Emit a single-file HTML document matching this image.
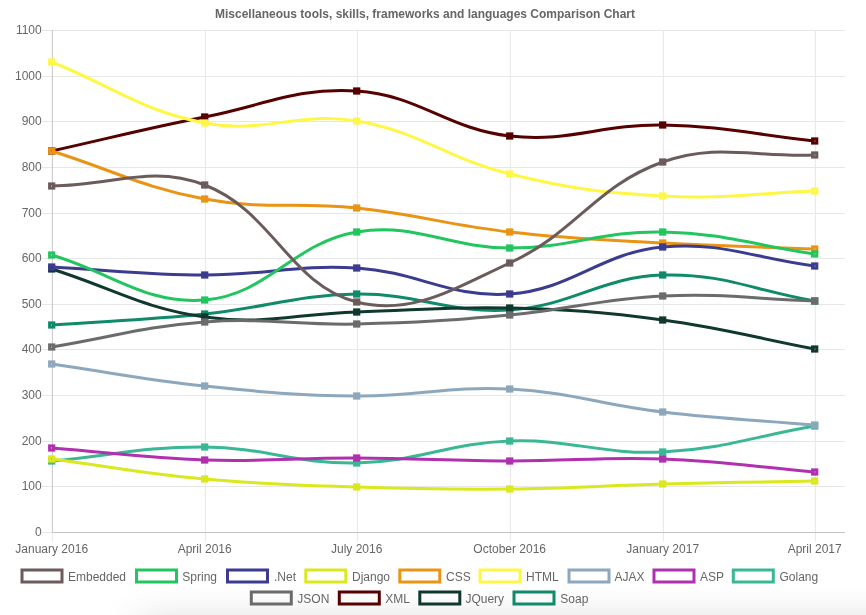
<!DOCTYPE html>
<html><head><meta charset="utf-8"><title>Chart</title>
<style>html,body{margin:0;padding:0;background:#fff;}body{width:866px;height:615px;overflow:hidden;position:relative;}svg{display:block;position:relative;z-index:1;}.sh{position:absolute;left:138px;top:623px;width:900px;height:60px;box-shadow:0 0 40px rgba(0,0,0,0.17);z-index:0;}</style></head>
<body>
<div class="sh"></div>
<svg width="866" height="615" viewBox="0 0 866 615">
<g stroke-width="1"><line x1="42" x2="845" y1="486.50" y2="486.50" stroke="#e7e7e7"/><line x1="42" x2="845" y1="441.50" y2="441.50" stroke="#e7e7e7"/><line x1="42" x2="845" y1="395.50" y2="395.50" stroke="#e7e7e7"/><line x1="42" x2="845" y1="349.50" y2="349.50" stroke="#e7e7e7"/><line x1="42" x2="845" y1="304.50" y2="304.50" stroke="#e7e7e7"/><line x1="42" x2="845" y1="258.50" y2="258.50" stroke="#e7e7e7"/><line x1="42" x2="845" y1="213.50" y2="213.50" stroke="#e7e7e7"/><line x1="42" x2="845" y1="167.50" y2="167.50" stroke="#e7e7e7"/><line x1="42" x2="845" y1="121.50" y2="121.50" stroke="#e7e7e7"/><line x1="42" x2="845" y1="76.50" y2="76.50" stroke="#e7e7e7"/><line x1="42" x2="845" y1="30.50" y2="30.50" stroke="#e7e7e7"/><line x1="205.35" x2="205.35" y1="30.0" y2="541.5" stroke="#e7e7e7"/><line x1="357.35" x2="357.35" y1="30.0" y2="541.5" stroke="#e7e7e7"/><line x1="510.35" x2="510.35" y1="30.0" y2="541.5" stroke="#e7e7e7"/><line x1="663.35" x2="663.35" y1="30.0" y2="541.5" stroke="#e7e7e7"/><line x1="815.35" x2="815.35" y1="30.0" y2="541.5" stroke="#e7e7e7"/><line x1="52.35" x2="52.35" y1="30.0" y2="532.5" stroke="#c6c6c6"/><line x1="52.35" x2="52.35" y1="532.5" y2="541.5" stroke="#e7e7e7"/><line x1="42" x2="52.35" y1="532.50" y2="532.50" stroke="#e7e7e7"/><line x1="52.35" x2="845" y1="532.50" y2="532.50" stroke="#c2c2c2"/></g>
<g stroke="#0f8a6a" stroke-width="3" fill="#0f8a6a" fill-opacity="0.1"><path d="M51.70 325.00 C112.90 320.60 143.68 320.20 204.70 314.00 C265.68 307.80 295.80 294.80 356.70 294.00 C417.80 293.20 449.11 313.76 509.70 310.00 C571.51 306.16 601.16 276.82 662.70 275.00 C723.16 273.22 753.90 290.60 814.70 301.00" fill="none"/>
<rect x="49.58" y="322.88" width="4.24" height="4.24"/>
<rect x="202.58" y="311.88" width="4.24" height="4.24"/>
<rect x="354.58" y="291.88" width="4.24" height="4.24"/>
<rect x="507.58" y="307.88" width="4.24" height="4.24"/>
<rect x="660.58" y="272.88" width="4.24" height="4.24"/>
<rect x="812.58" y="298.88" width="4.24" height="4.24"/>
</g>
<g stroke="#10382e" stroke-width="3" fill="#10382e" fill-opacity="0.1"><path d="M51.70 269.00 C112.90 288.20 142.09 308.17 204.70 317.00 C264.09 325.37 295.89 313.79 356.70 312.00 C417.89 310.19 448.58 306.40 509.70 308.00 C570.98 309.60 601.95 311.83 662.70 320.00 C723.95 328.23 753.90 337.40 814.70 349.00" fill="none"/>
<rect x="49.58" y="266.88" width="4.24" height="4.24"/>
<rect x="202.58" y="314.88" width="4.24" height="4.24"/>
<rect x="354.58" y="309.88" width="4.24" height="4.24"/>
<rect x="507.58" y="305.88" width="4.24" height="4.24"/>
<rect x="660.58" y="317.88" width="4.24" height="4.24"/>
<rect x="812.58" y="346.88" width="4.24" height="4.24"/>
</g>
<g stroke="#560000" stroke-width="3" fill="#560000" fill-opacity="0.1"><path d="M51.70 151.00 C112.90 137.40 143.20 129.10 204.70 117.00 C265.20 105.10 296.73 87.26 356.70 91.00 C418.73 94.86 447.31 129.07 509.70 136.00 C569.71 142.67 601.59 124.00 662.70 125.00 C723.59 126.00 753.90 134.60 814.70 141.00" fill="none"/>
<rect x="49.58" y="148.88" width="4.24" height="4.24"/>
<rect x="202.58" y="114.88" width="4.24" height="4.24"/>
<rect x="354.58" y="88.88" width="4.24" height="4.24"/>
<rect x="507.58" y="133.88" width="4.24" height="4.24"/>
<rect x="660.58" y="122.88" width="4.24" height="4.24"/>
<rect x="812.58" y="138.88" width="4.24" height="4.24"/>
</g>
<g stroke="#6b6b6b" stroke-width="3" fill="#6b6b6b" fill-opacity="0.1"><path d="M51.70 347.00 C112.90 337.00 143.10 326.65 204.70 322.00 C265.10 317.45 295.95 325.39 356.70 324.00 C417.95 322.59 448.68 320.58 509.70 315.00 C571.08 309.38 601.28 298.82 662.70 296.00 C723.28 293.22 753.90 299.00 814.70 301.00" fill="none"/>
<rect x="49.58" y="344.88" width="4.24" height="4.24"/>
<rect x="202.58" y="319.88" width="4.24" height="4.24"/>
<rect x="354.58" y="321.88" width="4.24" height="4.24"/>
<rect x="507.58" y="312.88" width="4.24" height="4.24"/>
<rect x="660.58" y="293.88" width="4.24" height="4.24"/>
<rect x="812.58" y="298.88" width="4.24" height="4.24"/>
</g>
<g stroke="#3ab795" stroke-width="3" fill="#3ab795" fill-opacity="0.1"><path d="M51.70 461.00 C112.90 455.40 143.54 446.60 204.70 447.00 C265.54 447.40 296.04 464.19 356.70 463.00 C418.04 461.79 448.27 443.21 509.70 441.00 C570.67 438.81 601.86 454.99 662.70 452.00 C723.86 448.99 753.90 436.40 814.70 426.00" fill="none"/>
<rect x="49.58" y="458.88" width="4.24" height="4.24"/>
<rect x="202.58" y="444.88" width="4.24" height="4.24"/>
<rect x="354.58" y="460.88" width="4.24" height="4.24"/>
<rect x="507.58" y="438.88" width="4.24" height="4.24"/>
<rect x="660.58" y="449.88" width="4.24" height="4.24"/>
<rect x="812.58" y="423.88" width="4.24" height="4.24"/>
</g>
<g stroke="#b030b0" stroke-width="3" fill="#b030b0" fill-opacity="0.1"><path d="M51.70 448.00 C112.90 452.80 143.41 457.99 204.70 460.00 C265.41 461.99 295.90 457.80 356.70 458.00 C417.90 458.20 448.50 460.80 509.70 461.00 C570.90 461.20 601.61 456.80 662.70 459.00 C723.61 461.20 753.90 466.80 814.70 472.00" fill="none"/>
<rect x="49.58" y="445.88" width="4.24" height="4.24"/>
<rect x="202.58" y="457.88" width="4.24" height="4.24"/>
<rect x="354.58" y="455.88" width="4.24" height="4.24"/>
<rect x="507.58" y="458.88" width="4.24" height="4.24"/>
<rect x="660.58" y="456.88" width="4.24" height="4.24"/>
<rect x="812.58" y="469.88" width="4.24" height="4.24"/>
</g>
<g stroke="#8da7bc" stroke-width="3" fill="#8da7bc" fill-opacity="0.1"><path d="M51.70 364.00 C112.90 372.80 143.25 379.55 204.70 386.00 C265.25 392.35 295.87 395.40 356.70 396.00 C417.87 396.60 448.81 385.82 509.70 389.00 C571.21 392.22 601.27 404.75 662.70 412.00 C723.27 419.15 753.90 419.80 814.70 425.00" fill="none"/>
<rect x="49.58" y="361.88" width="4.24" height="4.24"/>
<rect x="202.58" y="383.88" width="4.24" height="4.24"/>
<rect x="354.58" y="393.88" width="4.24" height="4.24"/>
<rect x="507.58" y="386.88" width="4.24" height="4.24"/>
<rect x="660.58" y="409.88" width="4.24" height="4.24"/>
<rect x="812.58" y="422.88" width="4.24" height="4.24"/>
</g>
<g stroke="#fff746" stroke-width="3" fill="#fff746" fill-opacity="0.1"><path d="M51.70 62.00 C112.90 86.40 141.25 110.73 204.70 123.00 C263.25 134.33 297.62 111.12 356.70 121.00 C419.62 131.52 447.08 158.65 509.70 174.00 C569.48 188.65 601.20 192.57 662.70 196.00 C723.20 199.37 753.90 193.00 814.70 191.00" fill="none"/>
<rect x="49.58" y="59.88" width="4.24" height="4.24"/>
<rect x="202.58" y="120.88" width="4.24" height="4.24"/>
<rect x="354.58" y="118.88" width="4.24" height="4.24"/>
<rect x="507.58" y="171.88" width="4.24" height="4.24"/>
<rect x="660.58" y="193.88" width="4.24" height="4.24"/>
<rect x="812.58" y="188.88" width="4.24" height="4.24"/>
</g>
<g stroke="#e99414" stroke-width="3" fill="#e99414" fill-opacity="0.1"><path d="M51.70 151.00 C112.90 170.20 142.12 187.31 204.70 199.00 C264.12 210.11 296.22 201.46 356.70 208.00 C418.22 214.66 448.21 224.97 509.70 232.00 C570.61 238.97 601.45 239.59 662.70 243.00 C723.45 246.39 753.90 246.60 814.70 249.00" fill="none"/>
<rect x="49.58" y="148.88" width="4.24" height="4.24"/>
<rect x="202.58" y="196.88" width="4.24" height="4.24"/>
<rect x="354.58" y="205.88" width="4.24" height="4.24"/>
<rect x="507.58" y="229.88" width="4.24" height="4.24"/>
<rect x="660.58" y="240.88" width="4.24" height="4.24"/>
<rect x="812.58" y="246.88" width="4.24" height="4.24"/>
</g>
<g stroke="#dae81e" stroke-width="3" fill="#dae81e" fill-opacity="0.1"><path d="M51.70 459.00 C112.90 467.00 143.28 473.36 204.70 479.00 C265.28 484.56 295.86 485.01 356.70 487.00 C417.86 489.01 448.51 489.60 509.70 489.00 C570.91 488.40 601.49 485.61 662.70 484.00 C723.49 482.41 753.90 482.20 814.70 481.00" fill="none"/>
<rect x="49.58" y="456.88" width="4.24" height="4.24"/>
<rect x="202.58" y="476.88" width="4.24" height="4.24"/>
<rect x="354.58" y="484.88" width="4.24" height="4.24"/>
<rect x="507.58" y="486.88" width="4.24" height="4.24"/>
<rect x="660.58" y="481.88" width="4.24" height="4.24"/>
<rect x="812.58" y="478.88" width="4.24" height="4.24"/>
</g>
<g stroke="#3b3b8f" stroke-width="3" fill="#3b3b8f" fill-opacity="0.1"><path d="M51.70 267.00 C112.90 270.20 143.49 274.80 204.70 275.00 C265.49 275.20 296.30 264.24 356.70 268.00 C418.30 271.84 449.44 298.14 509.70 294.00 C571.84 289.74 600.36 252.72 662.70 247.00 C722.36 241.52 753.90 258.40 814.70 266.00" fill="none"/>
<rect x="49.58" y="264.88" width="4.24" height="4.24"/>
<rect x="202.58" y="272.88" width="4.24" height="4.24"/>
<rect x="354.58" y="265.88" width="4.24" height="4.24"/>
<rect x="507.58" y="291.88" width="4.24" height="4.24"/>
<rect x="660.58" y="244.88" width="4.24" height="4.24"/>
<rect x="812.58" y="263.88" width="4.24" height="4.24"/>
</g>
<g stroke="#22c55e" stroke-width="3" fill="#22c55e" fill-opacity="0.1"><path d="M51.70 255.00 C112.90 273.00 145.02 304.50 204.70 300.00 C267.02 295.30 293.28 242.81 356.70 232.00 C415.28 222.01 448.50 248.00 509.70 248.00 C570.90 248.00 601.65 230.80 662.70 232.00 C723.65 233.20 753.90 245.20 814.70 254.00" fill="none"/>
<rect x="49.58" y="252.88" width="4.24" height="4.24"/>
<rect x="202.58" y="297.88" width="4.24" height="4.24"/>
<rect x="354.58" y="229.88" width="4.24" height="4.24"/>
<rect x="507.58" y="245.88" width="4.24" height="4.24"/>
<rect x="660.58" y="229.88" width="4.24" height="4.24"/>
<rect x="812.58" y="251.88" width="4.24" height="4.24"/>
</g>
<g stroke="#6b5b5b" stroke-width="3" fill="#6b5b5b" fill-opacity="0.1"><path d="M51.70 186.00 C112.90 185.60 150.57 164.41 204.70 185.00 C272.57 210.81 289.78 284.89 356.70 302.00 C411.78 316.09 453.06 288.91 509.70 263.00 C575.46 232.91 596.03 185.61 662.70 162.00 C718.03 142.41 753.90 157.80 814.70 155.00" fill="none"/>
<rect x="49.58" y="183.88" width="4.24" height="4.24"/>
<rect x="202.58" y="182.88" width="4.24" height="4.24"/>
<rect x="354.58" y="299.88" width="4.24" height="4.24"/>
<rect x="507.58" y="260.88" width="4.24" height="4.24"/>
<rect x="660.58" y="159.88" width="4.24" height="4.24"/>
<rect x="812.58" y="152.88" width="4.24" height="4.24"/>
</g>
<g font-family="'Liberation Sans', Arial, sans-serif" fill="#666" font-size="12">
<text x="425" y="17.6" text-anchor="middle" font-weight="bold" font-size="12.3" textLength="420" lengthAdjust="spacingAndGlyphs">Miscellaneous tools, skills, frameworks and languages Comparison Chart</text>
<text x="41.7" y="536.4" text-anchor="end">0</text>
<text x="41.7" y="490.4" text-anchor="end">100</text>
<text x="41.7" y="445.4" text-anchor="end">200</text>
<text x="41.7" y="399.4" text-anchor="end">300</text>
<text x="41.7" y="353.4" text-anchor="end">400</text>
<text x="41.7" y="308.4" text-anchor="end">500</text>
<text x="41.7" y="262.4" text-anchor="end">600</text>
<text x="41.7" y="217.4" text-anchor="end">700</text>
<text x="41.7" y="171.4" text-anchor="end">800</text>
<text x="41.7" y="125.4" text-anchor="end">900</text>
<text x="41.7" y="80.4" text-anchor="end">1000</text>
<text x="41.7" y="34.4" text-anchor="end">1100</text>
<text x="51.7" y="553" text-anchor="middle">January 2016</text>
<text x="204.7" y="553" text-anchor="middle">April 2016</text>
<text x="356.7" y="553" text-anchor="middle">July 2016</text>
<text x="509.7" y="553" text-anchor="middle">October 2016</text>
<text x="662.7" y="553" text-anchor="middle">January 2017</text>
<text x="814.7" y="553" text-anchor="middle">April 2017</text>
<rect x="22.0" y="570.0" width="40" height="12" fill="none" stroke="#6b5b5b" stroke-width="3"/>
<text x="68.0" y="580.9">Embedded</text>
<rect x="136.5" y="570.0" width="40" height="12" fill="none" stroke="#22c55e" stroke-width="3"/>
<text x="182.3" y="580.9">Spring</text>
<rect x="227.5" y="570.0" width="40" height="12" fill="none" stroke="#3b3b8f" stroke-width="3"/>
<text x="274.0" y="580.9">.Net</text>
<rect x="305.8" y="570.0" width="40" height="12" fill="none" stroke="#dae81e" stroke-width="3"/>
<text x="352.0" y="580.9">Django</text>
<rect x="399.8" y="570.0" width="40" height="12" fill="none" stroke="#e99414" stroke-width="3"/>
<text x="446.0" y="580.9">CSS</text>
<rect x="480.0" y="570.0" width="40" height="12" fill="none" stroke="#fff746" stroke-width="3"/>
<text x="526.0" y="580.9">HTML</text>
<rect x="569.0" y="570.0" width="40" height="12" fill="none" stroke="#8da7bc" stroke-width="3"/>
<text x="614.5" y="580.9">AJAX</text>
<rect x="654.0" y="570.0" width="40" height="12" fill="none" stroke="#b030b0" stroke-width="3"/>
<text x="700.0" y="580.9">ASP</text>
<rect x="733.3" y="570.0" width="40" height="12" fill="none" stroke="#3ab795" stroke-width="3"/>
<text x="779.5" y="580.9">Golang</text>
<rect x="251.3" y="592.0" width="40" height="12" fill="none" stroke="#6b6b6b" stroke-width="3"/>
<text x="297.3" y="602.9">JSON</text>
<rect x="339.3" y="592.0" width="40" height="12" fill="none" stroke="#560000" stroke-width="3"/>
<text x="385.3" y="602.9">XML</text>
<rect x="419.8" y="592.0" width="40" height="12" fill="none" stroke="#10382e" stroke-width="3"/>
<text x="465.4" y="602.9">JQuery</text>
<rect x="514.0" y="592.0" width="40" height="12" fill="none" stroke="#0f8a6a" stroke-width="3"/>
<text x="560.3" y="602.9">Soap</text>
</g>
</svg>
</body></html>
